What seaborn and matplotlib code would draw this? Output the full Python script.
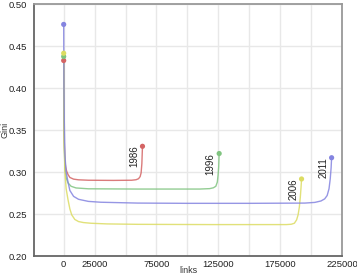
import numpy as np
import pandas as pd
import matplotlib
matplotlib.use("Agg")
import matplotlib.pyplot as plt
import seaborn as sns

# === data ===
years = ["1986", "1996", "2006", "2011"]

links_1986 = [0, 200, 500, 1000, 1600, 2400, 3500, 5000, 8000, 12000, 20000, 40000,
              55000, 58500, 60500, 61800, 62600, 63200, 63700]
gini_1986 = [0.4327, 0.370, 0.335, 0.313, 0.306, 0.301, 0.297, 0.2935, 0.2915, 0.2907, 0.2902, 0.2900,
             0.2902, 0.2908, 0.2920, 0.2945, 0.2990, 0.3100, 0.3306]

links_1996 = [0, 200, 500, 1000, 2000, 3500, 6000, 10000, 20000, 60000, 110000,
              118000, 121000, 123000, 124200, 124800, 125300, 125700]
gini_1996 = [0.4375, 0.365, 0.330, 0.305, 0.293, 0.287, 0.283, 0.281, 0.2800, 0.2797, 0.2797,
             0.2802, 0.2812, 0.2830, 0.2880, 0.2960, 0.3060, 0.3220]

links_2006 = [0, 200, 500, 1000, 2000, 3500, 5000, 6500, 9000, 12000, 16000, 22000, 35000,
              60000, 120000, 180000, 184000, 186500, 188300, 189500, 190500, 191300, 191900, 192300]
gini_2006 = [0.4414, 0.370, 0.330, 0.300, 0.280, 0.267, 0.256, 0.249, 0.2435, 0.2410, 0.2398, 0.2390, 0.2382,
             0.2377, 0.2374, 0.2374, 0.2378, 0.2390, 0.2430, 0.2490, 0.2580, 0.2700, 0.2820, 0.2917]

links_2011 = [0, 200, 500, 1000, 2000, 3500, 5000, 8000, 12000, 20000, 30000, 60000, 100000,
              150000, 195000, 203000, 208000, 211000, 213000, 214500, 215500, 216200, 216600]
gini_2011 = [0.4757, 0.400, 0.360, 0.320, 0.300, 0.288, 0.278, 0.271, 0.2675, 0.2650, 0.2640, 0.2630, 0.2627,
             0.2627, 0.2630, 0.2638, 0.2655, 0.2680, 0.2720, 0.2800, 0.2920, 0.3050, 0.3170]

series = {"1986": (links_1986, gini_1986), "1996": (links_1996, gini_1996),
          "2006": (links_2006, gini_2006), "2011": (links_2011, gini_2011)}

colors = {"1986": "#d46464", "1996": "#80c480", "2006": "#dcdc62", "2011": "#8484e0"}

x_ticks = [0, 25000, 50000, 75000, 100000, 125000, 150000, 175000, 200000, 225000]
x_labels = ["0", "25000", "", "75000", "", "125000", "", "175000", "", "225000"]
y_ticks = [0.20, 0.25, 0.30, 0.35, 0.40, 0.45, 0.50]

# long table for seaborn
df = pd.concat([pd.DataFrame({"links": l, "gini": g, "year": y}) for y, (l, g) in series.items()],
               ignore_index=True)
ends = pd.concat([df[df.year == y].iloc[[0, -1]] for y in years], ignore_index=True)

sns.set_style("white")
plt.rcParams["font.family"] = ["Liberation Sans", "DejaVu Sans"]

fig = plt.figure(figsize=(3.57, 2.76), dpi=100)
ax = fig.add_axes([34 / 357, 20 / 276, 308 / 357, 252 / 276])

sns.lineplot(data=df, x="links", y="gini", hue="year", palette=colors, estimator=None,
             linewidth=1.0, alpha=0.85, legend=False, ax=ax, zorder=3)
sns.scatterplot(data=ends, x="links", y="gini", hue="year", palette=colors, s=14,
                edgecolor="none", legend=False, ax=ax, zorder=4)

# year labels next to the last point
for y in years:
    l, g = series[y]
    ax.annotate(y, (l[-1], g[-1]), xytext=(-2.5, 0.5), textcoords="offset points",
                rotation=90, ha="right", va="top", fontsize=7, color="#222222")

ax.set_xlim(-24000, 225000)
ax.set_ylim(0.2, 0.5)
ax.set_xticks(x_ticks)
ax.set_xticklabels(x_labels)
ax.set_yticks(y_ticks)
ax.set_yticklabels([f"{v:.2f}" for v in y_ticks])
ax.grid(True, color="#e8e8e8", linewidth=1.0, zorder=0)
ax.set_axisbelow(True)
ax.tick_params(axis="both", length=0, labelsize=6.8, colors="#222222")
ax.tick_params(axis="y", pad=5)
ax.tick_params(axis="x", pad=3)
ax.set_xlabel("links", fontsize=6.5, color="#333333")
ax.set_ylabel("Gini", fontsize=6.5, color="#333333")
ax.xaxis.set_label_coords(0.5, -0.038)
ax.yaxis.set_label_coords(-0.081, 0.5)

for side in ["left", "bottom"]:
    ax.spines[side].set_color("#666666")
    ax.spines[side].set_linewidth(1.3)
for side in ["top", "right"]:
    ax.spines[side].set_color("#999999")
    ax.spines[side].set_linewidth(1.3)

fig.savefig("out.png", dpi=100)
